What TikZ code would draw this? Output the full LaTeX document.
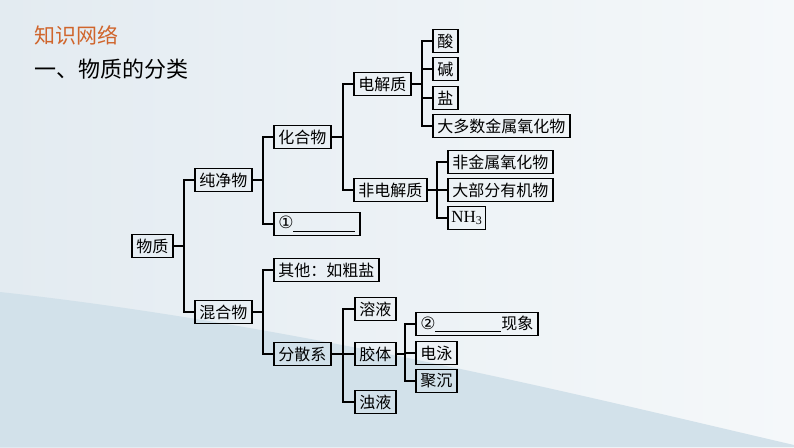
\documentclass[tikz,border=0pt]{standalone}
\usepackage{fontspec}
\setmainfont{Noto Sans CJK SC}
\newfontfamily\latinrm{Liberation Serif}
\newfontfamily\circfont{DejaVu Sans}
\definecolor{titleorange}{HTML}{D0652C}
\definecolor{bgleft}{HTML}{E3EBF1}
\definecolor{bgright}{HTML}{F5F8FA}
\definecolor{bgwave}{HTML}{D2E1EA}
\begin{document}
\begin{tikzpicture}[
  x=1pt, y=-1pt,
  box/.style={draw, line width=1.5pt, anchor=west, inner xsep=4.5pt, inner ysep=0pt,
    minimum height=23pt, font=\fontsize{16}{18}\selectfont},
  link/.style={draw, line width=1.3pt}
]
  % background
  \useasboundingbox (0,0) rectangle (794,447);
  \shade[left color=bgleft, right color=bgright] (0,0) rectangle (794,447);
  \fill[bgwave] (0,292) .. controls (300,325) and (600,400) .. (794,445) -- (794,447) -- (0,447) -- cycle;

  % title
  \node[anchor=west, text=titleorange, font=\fontsize{21}{24}\selectfont] (title) at (31,35) {知识网络};
  \node[anchor=west, font=\fontsize{22}{26}\selectfont] (sub) at (31,69) {一、物质的分类};

  % boxes
  \node[box] (wz)    at (131,246) {物质};
  \node[box] (cjw)   at (194,180) {纯净物};
  \node[box] (hhw)   at (194,312) {混合物};
  \node[box] (hhwu)  at (273,137) {化合物};
  \node[box] (blank1) at (273,224) {{\circfont\fontsize{17}{18}\selectfont ①}\rule[-3pt]{62pt}{1.2pt}};
  \node[box] (djz)   at (353,84)  {电解质};
  \node[box] (fdjz)  at (353,190) {非电解质};
  \node[box] (suan)  at (432,41)  {酸};
  \node[box] (jian)  at (432,69)  {碱};
  \node[box] (yan)   at (432,98)  {盐};
  \node[box] (jsyhw) at (432,126) {大多数金属氧化物};
  \node[box] (fjs)   at (447,162) {非金属氧化物};
  \node[box] (yjw)   at (447,190) {大部分有机物};
  \node[box, inner xsep=3.5pt] (nh3) at (447,218) {\latinrm\fontsize{17}{18}\selectfont NH\raisebox{-2.5pt}{\fontsize{12}{12}\selectfont 3}};
  \node[box] (qt)    at (273,270) {其他：如粗盐};
  \node[box] (fsx)   at (273,354) {分散系};
  \node[box] (ry)    at (354,309) {溶液};
  \node[box] (jt)    at (354,354) {胶体};
  \node[box] (zy)    at (354,402) {浊液};
  \node[box] (blank2) at (415,324) {{\circfont\fontsize{17}{18}\selectfont ②}\rule[-3pt]{66pt}{1.2pt}现象};
  \node[box] (dy)    at (415,353) {电泳};
  \node[box] (jc)    at (415,381) {聚沉};

  % spines
  \coordinate (s0) at (184,0);
  \coordinate (s1) at (263,0);
  \coordinate (s2) at (343,0);
  \coordinate (s3) at (422,0);
  \coordinate (s4) at (437,0);
  \coordinate (s5) at (405,0);

  % connectors
  \foreach \c in {cjw,hhw}
    \draw[link] (wz.east) -- (wz.east -| s0) |- (\c.west);
  \foreach \c in {hhwu,blank1}
    \draw[link] (cjw.east) -- (cjw.east -| s1) |- (\c.west);
  \foreach \c in {qt,fsx}
    \draw[link] (hhw.east) -- (hhw.east -| s1) |- (\c.west);
  \foreach \c in {djz,fdjz}
    \draw[link] (hhwu.east) -- (hhwu.east -| s2) |- (\c.west);
  \foreach \c in {suan,jian,yan,jsyhw}
    \draw[link] (djz.east) -- (djz.east -| s3) |- (\c.west);
  \foreach \c in {fjs,yjw,nh3}
    \draw[link] (fdjz.east) -- (fdjz.east -| s4) |- (\c.west);
  \foreach \c in {ry,jt,zy}
    \draw[link] (fsx.east) -- (fsx.east -| s2) |- (\c.west);
  \foreach \c in {blank2,dy,jc}
    \draw[link] (jt.east) -- (jt.east -| s5) |- (\c.west);
\end{tikzpicture}
\end{document}
